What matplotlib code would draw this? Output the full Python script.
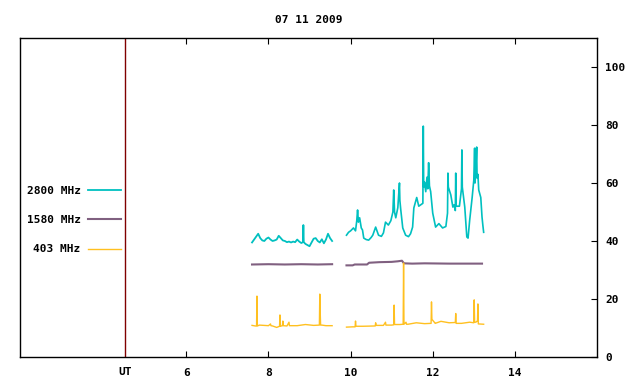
import numpy as np
import matplotlib.pyplot as plt

# 2800 MHz (two segments, gap between them)
t2800_a = [7.60, 7.65, 7.70, 7.75, 7.80, 7.85, 7.90, 7.95, 8.00, 8.05, 8.10, 8.15, 8.20, 8.25,
           8.30, 8.35, 8.40, 8.45, 8.50, 8.55, 8.60, 8.65, 8.70, 8.75, 8.80, 8.84, 8.85, 8.86,
           8.90, 8.95, 9.00, 9.05, 9.10, 9.15, 9.20, 9.25, 9.30, 9.35, 9.40, 9.45, 9.50, 9.55]
v2800_a = [39.5, 40.5, 41.5, 42.5, 41.0, 40.2, 40.0, 40.8, 41.2, 40.5, 40.0, 40.2, 40.5, 41.8,
           41.0, 40.2, 40.0, 39.6, 39.8, 39.5, 39.8, 39.6, 40.5, 39.8, 39.3, 39.6, 45.5, 39.6,
           39.0, 38.6, 38.2, 39.5, 40.8, 41.0, 40.0, 39.5, 40.6, 39.2, 40.5, 42.5, 41.0, 40.0]
t2800_b = [9.90, 9.95, 10.00, 10.07, 10.12, 10.15, 10.17, 10.19, 10.22, 10.26, 10.29, 10.32, 10.38,
           10.44, 10.50, 10.54, 10.61, 10.68, 10.75, 10.80, 10.85, 10.92, 10.98, 11.03, 11.05,
           11.07, 11.10, 11.15, 11.19, 11.20, 11.22, 11.27, 11.34, 11.41, 11.46, 11.51, 11.54,
           11.61, 11.66, 11.71, 11.76, 11.77, 11.78, 11.80, 11.83, 11.86, 11.88, 11.90, 11.92,
           11.95, 12.00, 12.07, 12.15, 12.24, 12.32, 12.36, 12.37, 12.38, 12.44, 12.49, 12.52,
           12.55, 12.56, 12.57, 12.61, 12.65, 12.70, 12.71, 12.72, 12.78, 12.83, 12.86, 12.90,
           12.96, 13.00, 13.02, 13.03, 13.05, 13.07, 13.08, 13.10, 13.12, 13.17, 13.20, 13.22, 13.24]
v2800_b = [42.0, 43.0, 43.5, 44.5, 43.5, 47.0, 50.7, 46.5, 48.0, 44.5, 43.8, 41.0, 40.5,
           40.3, 41.2, 42.0, 44.8, 42.0, 41.6, 42.8, 46.5, 45.5, 47.0, 50.0, 57.6,
           50.0, 48.0, 51.5, 60.0, 54.0, 51.0, 44.5, 42.0, 41.5, 42.5, 44.8, 51.4,
           55.0, 52.0, 52.5, 53.0, 79.6, 58.6, 60.3, 57.0, 62.0, 58.0, 67.0, 59.0,
           57.0, 49.6, 44.8, 46.0, 44.5, 45.0, 49.6, 63.4, 58.6, 55.9, 51.7, 52.5,
           50.5, 63.4, 52.0, 52.0, 52.0, 58.0, 71.4, 58.6, 51.7, 41.4, 41.0, 47.2,
           55.0, 61.0, 72.0, 60.0, 64.5, 72.4, 61.7, 63.0, 57.6, 55.0, 48.3, 45.5, 43.0]

# 1580 MHz
t1580_a = [7.60, 8.00, 8.40, 8.80, 9.20, 9.55]
v1580_a = [31.9, 32.0, 31.9, 32.0, 31.9, 32.0]
t1580_b = [9.90, 10.05, 10.10, 10.40, 10.45, 10.70, 11.00, 11.15, 11.25, 11.30, 11.50, 11.80, 12.40, 13.20]
v1580_b = [31.6, 31.6, 31.9, 31.9, 32.5, 32.7, 32.8, 33.0, 33.2, 32.3, 32.2, 32.3, 32.2, 32.2]

# 403 MHz
t403_a = [7.60, 7.68, 7.71, 7.72, 7.73, 7.78, 8.00, 8.05, 8.06, 8.10, 8.20, 8.27, 8.28, 8.29, 8.34,
          8.35, 8.36, 8.45, 8.50, 8.51, 8.70, 8.90, 9.10, 9.24, 9.25, 9.26, 9.27, 9.30, 9.40, 9.55]
v403_a = [10.9, 10.7, 10.7, 21.0, 10.7, 11.0, 10.8, 11.4, 10.8, 10.7, 10.2, 10.6, 14.5, 10.6, 10.8,
          12.4, 10.8, 10.7, 12.0, 10.8, 10.8, 11.2, 10.9, 11.0, 21.7, 15.5, 11.0, 11.0, 10.8, 10.8]
t403_b = [9.90, 10.05, 10.11, 10.12, 10.13, 10.30, 10.60, 10.61, 10.62, 10.80, 10.85, 10.86,
          11.00, 11.05, 11.06, 11.07, 11.20, 11.28, 11.29, 11.30, 11.35, 11.36, 11.40, 11.60,
          11.80, 11.96, 11.97, 11.98, 12.05, 12.06, 12.20, 12.40, 12.55, 12.56, 12.57, 12.70,
          12.90, 13.00, 13.01, 13.02, 13.05, 13.09, 13.10, 13.11, 13.12, 13.24]
v403_b = [10.3, 10.4, 10.4, 12.4, 10.6, 10.6, 10.7, 11.8, 10.9, 10.9, 12.0, 11.0,
          11.0, 11.1, 17.9, 11.2, 11.2, 11.3, 32.4, 11.3, 12.0, 11.3, 11.3, 11.8,
          11.5, 11.6, 19.0, 13.0, 11.8, 11.6, 12.3, 11.8, 11.9, 15.0, 11.6, 11.6,
          12.0, 11.8, 19.7, 12.0, 12.0, 12.5, 18.3, 11.4, 11.4, 11.3]

xticks = [6, 8, 10, 12, 14]
yticks = [0, 20, 40, 60, 80, 100]

plt.rcParams['font.family'] = 'DejaVu Sans Mono'
plt.rcParams['font.weight'] = 'bold'
plt.rcParams['font.size'] = 8

fig = plt.figure(figsize=(6.4, 3.84), dpi=100)
ax = fig.add_axes([20 / 640, 27 / 384, 577 / 640, 319 / 384])

c2800 = '#00c0c0'
c1580 = '#806080'
c403 = '#ffc020'

ax.plot(t2800_a, v2800_a, color=c2800, lw=1.3, label='2800 MHz')
ax.plot(t2800_b, v2800_b, color=c2800, lw=1.2)
ax.plot(t1580_a, v1580_a, color=c1580, lw=1.5, label='1580 MHz')
ax.plot(t1580_b, v1580_b, color=c1580, lw=1.5)
ax.plot(t403_a, v403_a, color=c403, lw=1, label='403 MHz')
ax.plot(t403_b, v403_b, color=c403, lw=1)

# UT marker line
ax.axvline(4.51, color='#800000', lw=1)
ax.text(4.51, -0.03, 'UT', transform=ax.get_xaxis_transform(), ha='center', va='top')

ax.set_xlim(1.95, 16)
ax.set_ylim(0, 110)
ax.set_xticks(xticks)
ax.set_yticks(yticks)
ax.tick_params(axis='x', direction='in', length=4, pad=8, top=True)
ax.tick_params(axis='y', direction='in', length=4, pad=6, left=False, right=True,
               labelleft=False, labelright=True)
for s in ax.spines.values():
    s.set_linewidth(1)

ax.set_title('07 11 2009', pad=11, fontsize=8, fontweight='bold')

leg = ax.legend(markerfirst=False, frameon=False, loc='upper right',
                bbox_to_anchor=(0.184, 0.555), borderpad=0, handlelength=2.9,
                handletextpad=0.7, labelspacing=1.75)
for txt in leg.get_texts():
    txt.set_ha('right')

fig.savefig('out.png', dpi=100)
